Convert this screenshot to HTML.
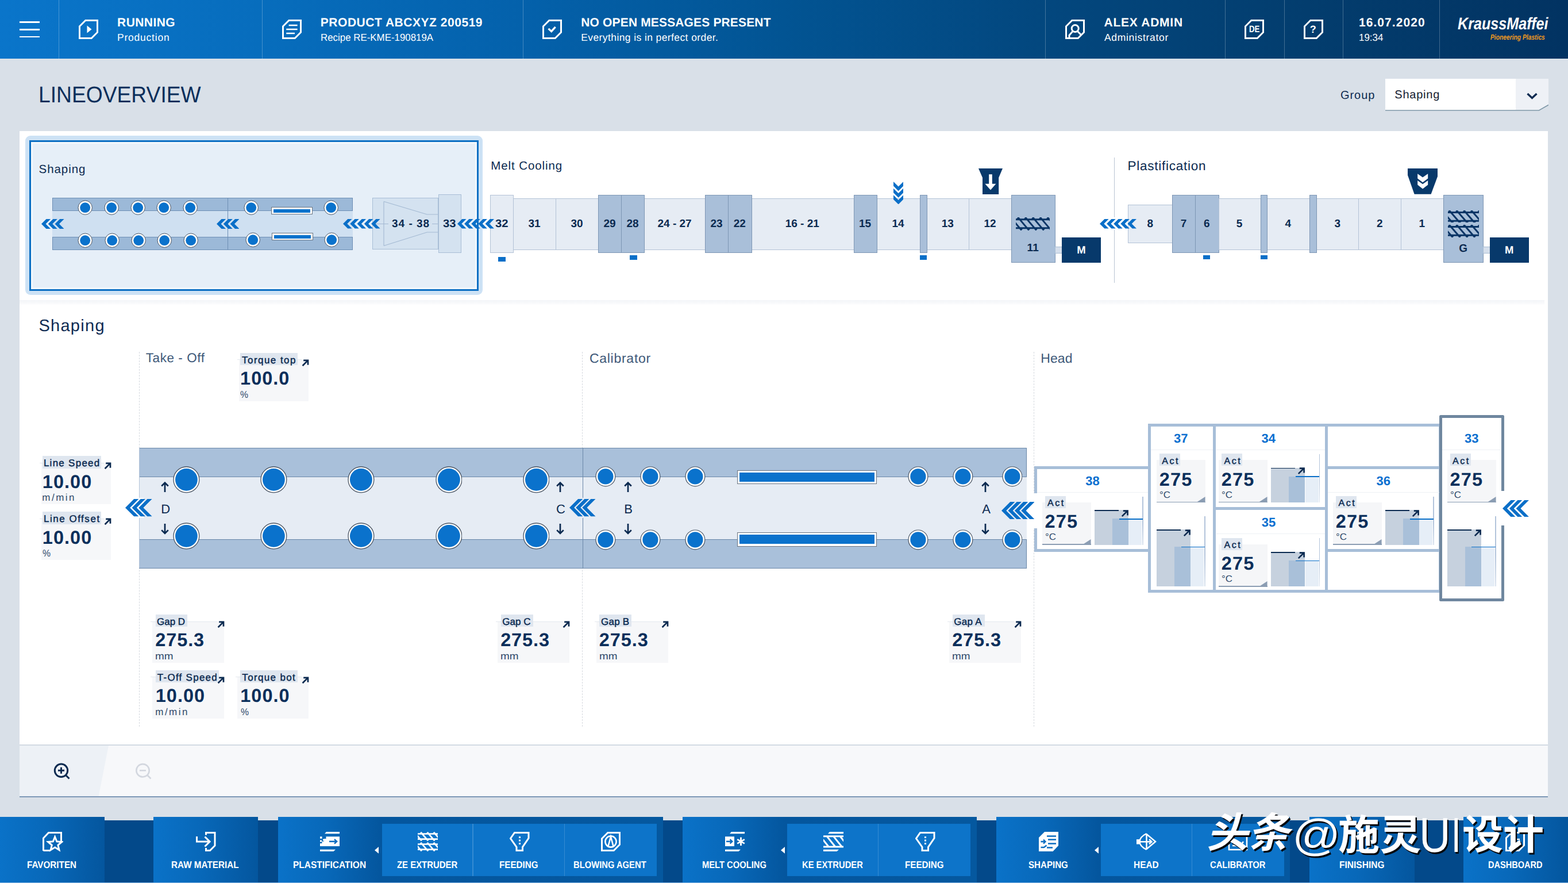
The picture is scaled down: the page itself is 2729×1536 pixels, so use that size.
<!DOCTYPE html>
<html><head><meta charset="utf-8"><title>Lineoverview</title><style>
html,body{margin:0;padding:0}
body{width:2729px;height:1536px;overflow:hidden;position:relative;background:#d9e0e8;font-family:"Liberation Sans",sans-serif}
div,svg{position:absolute}
.t{white-space:nowrap;text-rendering:geometricPrecision}
</style></head><body>
<div style="left:0px;top:0px;width:2729px;height:102px;background:linear-gradient(90deg,#0a75ca 0%,#076dbd 16.7%,#0461ab 33.3%,#025493 50%,#03477e 66.7%,#033d6e 83.4%,#023362 100%);"></div>
<div style="left:101.6px;top:0px;width:1.3px;height:102px;background:rgba(255,255,255,0.25);"></div>
<div style="left:455.6px;top:0px;width:1.3px;height:102px;background:rgba(255,255,255,0.25);"></div>
<div style="left:909.6px;top:0px;width:1.3px;height:102px;background:rgba(255,255,255,0.25);"></div>
<div style="left:1819.1px;top:0px;width:1.3px;height:102px;background:rgba(255,255,255,0.25);"></div>
<div style="left:2132.1px;top:0px;width:1.3px;height:102px;background:rgba(255,255,255,0.25);"></div>
<div style="left:2235.1px;top:0px;width:1.3px;height:102px;background:rgba(255,255,255,0.25);"></div>
<div style="left:2337.1px;top:0px;width:1.3px;height:102px;background:rgba(255,255,255,0.25);"></div>
<div style="left:2504.6px;top:0px;width:1.3px;height:102px;background:rgba(255,255,255,0.25);"></div>
<div style="left:34px;top:36.8px;width:34.5px;height:2.8px;background:#fff;"></div>
<div style="left:34px;top:49.8px;width:34.5px;height:2.8px;background:#fff;"></div>
<div style="left:34px;top:62.5px;width:34.5px;height:2.8px;background:#fff;"></div>
<svg style="left:136.6px;top:34px;" width="34" height="34" viewBox="0 0 34 34"><path d="M11.8,1.5 H32.5 V22.2 L22.2,32.5 H1.5 V11.8 Z" fill="none" stroke="#fff" stroke-width="3" stroke-linejoin="miter"/><path d="M14.5,10.5 L22.5,17 L14.5,23.5Z" fill="#fff"/></svg>
<svg style="left:490.5px;top:34px;" width="34" height="34" viewBox="0 0 34 34"><path d="M11.8,1.5 H32.5 V22.2 L22.2,32.5 H1.5 V11.8 Z" fill="none" stroke="#fff" stroke-width="3" stroke-linejoin="miter"/><path d="M11.6,10H26.6M7.2,17H26.6M7.2,24H22" stroke="#fff" stroke-width="2.6" fill="none"/></svg>
<svg style="left:944px;top:34px;" width="34" height="34" viewBox="0 0 34 34"><path d="M11.8,1.5 H32.5 V22.2 L22.2,32.5 H1.5 V11.8 Z" fill="none" stroke="#fff" stroke-width="3" stroke-linejoin="miter"/><path d="M10.6,15.9 L15.7,20.7 L22.6,12.8" stroke="#fff" stroke-width="3.3" fill="none"/></svg>
<svg style="left:1853.5px;top:34px;" width="34" height="34" viewBox="0 0 34 34"><path d="M11.8,1.5 H32.5 V22.2 L22.2,32.5 H1.5 V11.8 Z" fill="none" stroke="#fff" stroke-width="3" stroke-linejoin="miter"/><circle cx="17.2" cy="15.5" r="6" fill="none" stroke="#fff" stroke-width="3"/><path d="M7,32 V27.3 L13.2,20.3 M21.3,20.3 L28.2,27.2" fill="none" stroke="#fff" stroke-width="3"/></svg>
<svg style="left:2165.8px;top:34px;" width="34" height="34" viewBox="0 0 34 34"><path d="M11.8,1.5 H32.5 V22.2 L22.2,32.5 H1.5 V11.8 Z" fill="none" stroke="#fff" stroke-width="3" stroke-linejoin="miter"/></svg>
<div class="t" style="left:2173.71px;top:43.43px;font-size:16.5px;line-height:16.5px;color:#fff;font-weight:bold;transform:scaleX(0.8029);transform-origin:0 0;">DE</div>
<svg style="left:2268.6px;top:34px;" width="34" height="34" viewBox="0 0 34 34"><path d="M11.8,1.5 H32.5 V22.2 L22.2,32.5 H1.5 V11.8 Z" fill="none" stroke="#fff" stroke-width="3" stroke-linejoin="miter"/></svg>
<div class="t" style="left:2279.71px;top:42.16px;font-size:18px;line-height:18px;color:#fff;font-weight:bold;">?</div>
<div class="t" style="left:204.1px;top:28.62px;font-size:21px;line-height:21px;color:#fff;font-weight:bold;letter-spacing:0.42px;">RUNNING</div>
<div class="t" style="left:204.06px;top:56.59px;font-size:17.5px;line-height:17.5px;color:#fff;letter-spacing:0.77px;">Production</div>
<div class="t" style="left:557.8px;top:28.62px;font-size:21px;line-height:21px;color:#fff;font-weight:bold;letter-spacing:0.53px;">PRODUCT ABCXYZ 200519</div>
<div class="t" style="left:557.82px;top:56.59px;font-size:17.5px;line-height:17.5px;color:#fff;transform:scaleX(0.9647);transform-origin:0 0;">Recipe RE-KME-190819A</div>
<div class="t" style="left:1011.3px;top:28.62px;font-size:21px;line-height:21px;color:#fff;font-weight:bold;letter-spacing:0.15px;">NO OPEN MESSAGES PRESENT</div>
<div class="t" style="left:1011.26px;top:56.59px;font-size:17.5px;line-height:17.5px;color:#fff;letter-spacing:0.4px;">Everything is in perfect order.</div>
<div class="t" style="left:1921.48px;top:28.62px;font-size:21px;line-height:21px;color:#fff;font-weight:bold;letter-spacing:0.75px;">ALEX ADMIN</div>
<div class="t" style="left:1921.97px;top:56.59px;font-size:17.5px;line-height:17.5px;color:#fff;letter-spacing:0.68px;">Administrator</div>
<div class="t" style="left:2364.88px;top:28.62px;font-size:21px;line-height:21px;color:#fff;font-weight:bold;letter-spacing:1.08px;">16.07.2020</div>
<div class="t" style="left:2364.91px;top:56.59px;font-size:17.5px;line-height:17.5px;color:#fff;transform:scaleX(0.9655);transform-origin:0 0;">19:34</div>
<div class="t" style="left:2537.06px;top:27.43px;font-size:29.5px;line-height:29.5px;color:#fff;font-weight:bold;font-style:italic;transform:scaleX(0.8527);transform-origin:0 0;">KraussMaffei</div>
<div class="t" style="left:2594.22px;top:58.4px;font-size:13px;line-height:13px;color:#f39a1e;font-weight:bold;font-style:italic;transform:scaleX(0.7907);transform-origin:0 0;">Pioneering Plastics</div>
<div class="t" style="left:67.45px;top:145.96px;font-size:39.5px;line-height:39.5px;color:#0b2f5b;transform:scaleX(0.9423);transform-origin:0 0;">LINEOVERVIEW</div>
<div class="t" style="left:2332.99px;top:156.47px;font-size:20px;line-height:20px;color:#0b2a50;letter-spacing:0.96px;">Group</div>
<svg style="left:2411px;top:137px;" width="284" height="56" viewBox="0 0 284 56"><path d="M0,0H284V45.5L267.5,55H0Z" fill="#fff"/><path d="M227,0H284V45.5L267.5,55H227Z" fill="#eef1f6"/><path d="M0,55H267.5L284,45.5" fill="none" stroke="#7f98a8" stroke-width="1.6"/><path d="M247.5,26 L255.5,33.5 L263.5,26" fill="none" stroke="#0b2a50" stroke-width="3.4"/></svg>
<div class="t" style="left:2427.29px;top:155.47px;font-size:20px;line-height:20px;color:#141c30;letter-spacing:0.77px;">Shaping</div>
<div style="left:34px;top:228px;width:2660px;height:1157.5px;background:#fff;"></div>
<div style="left:34px;top:522px;width:2654px;height:8.3px;background:linear-gradient(180deg,#f3f5f8,#f8f9fb 60%,#fdfdfe);"></div>
<div style="left:34px;top:1295px;width:2660px;height:1.6px;background:#d3dae3;"></div>
<div style="left:34px;top:1296.6px;width:2660px;height:88.4px;background:#f7f8fa;"></div>
<svg style="left:34px;top:1296.6px;" width="160" height="88.4" viewBox="0 0 160 88.4"><path d="M0,0H155L137.5,88.4H0Z" fill="#edf1f6"/></svg>
<div style="left:34px;top:1384.5px;width:2660px;height:2.6px;background:#7d98b6;"></div>
<svg style="left:90px;top:1324px;" width="36" height="36" viewBox="0 0 36 36"><circle cx="16.5" cy="16.3" r="11.2" fill="none" stroke="#0b2a50" stroke-width="3"/><path d="M24.5,24.5 L30.5,30.5" stroke="#0b2a50" stroke-width="3"/><path d="M11,16.3H22M16.5,10.8V21.8" stroke="#0b2a50" stroke-width="3"/></svg>
<svg style="left:231.5px;top:1324px;" width="36" height="36" viewBox="0 0 36 36"><circle cx="16.5" cy="16.3" r="11.2" fill="none" stroke="#d3d7df" stroke-width="2.6"/><path d="M24.5,24.5 L30.5,30.5" stroke="#d3d7df" stroke-width="2.6"/><path d="M11,16.3H22" stroke="#d3d7df" stroke-width="2.6"/></svg>
<div style="left:43.5px;top:236.4px;width:796.5px;height:276.6px;background:#cde2f5;border-radius:9px;"></div>
<div style="left:51px;top:244px;width:782px;height:262px;background:#e6eff8;box-sizing:border-box;border:3.4px solid #0b6fc3;box-shadow:inset 0 0 0 3px #f1f7fc;"></div>
<div class="t" style="left:67.57px;top:285.05px;font-size:20.5px;line-height:20.5px;color:#0b2a50;letter-spacing:0.94px;">Shaping</div>
<div style="left:91px;top:344px;width:523px;height:90.6px;background:#cfe0f1;"></div>
<div style="left:91px;top:344px;width:523px;height:22.8px;background:#9cb9d8;box-sizing:border-box;border:1px solid #6d8fb5;"></div>
<div style="left:91px;top:412.2px;width:523px;height:22.4px;background:#9cb9d8;box-sizing:border-box;border:1px solid #6d8fb5;"></div>
<div style="left:396px;top:344px;width:1.2px;height:90.6px;background:#6d8fb5;"></div>
<svg style="left:134.5px;top:347.9px;" width="26.4" height="26.4" viewBox="0 0 26.4 26.4"><circle cx="13.2" cy="13.2" r="12.2" fill="#fff" stroke="#4b5563" stroke-width="1"/><circle cx="13.2" cy="13.2" r="8.9" fill="#0a72cc"/></svg>
<svg style="left:135.3px;top:404.6px;" width="26.4" height="26.4" viewBox="0 0 26.4 26.4"><circle cx="13.2" cy="13.2" r="12.2" fill="#fff" stroke="#4b5563" stroke-width="1"/><circle cx="13.2" cy="13.2" r="8.9" fill="#0a72cc"/></svg>
<svg style="left:181.1px;top:347.9px;" width="26.4" height="26.4" viewBox="0 0 26.4 26.4"><circle cx="13.2" cy="13.2" r="12.2" fill="#fff" stroke="#4b5563" stroke-width="1"/><circle cx="13.2" cy="13.2" r="8.9" fill="#0a72cc"/></svg>
<svg style="left:181.9px;top:404.6px;" width="26.4" height="26.4" viewBox="0 0 26.4 26.4"><circle cx="13.2" cy="13.2" r="12.2" fill="#fff" stroke="#4b5563" stroke-width="1"/><circle cx="13.2" cy="13.2" r="8.9" fill="#0a72cc"/></svg>
<svg style="left:226.9px;top:347.9px;" width="26.4" height="26.4" viewBox="0 0 26.4 26.4"><circle cx="13.2" cy="13.2" r="12.2" fill="#fff" stroke="#4b5563" stroke-width="1"/><circle cx="13.2" cy="13.2" r="8.9" fill="#0a72cc"/></svg>
<svg style="left:227.7px;top:404.6px;" width="26.4" height="26.4" viewBox="0 0 26.4 26.4"><circle cx="13.2" cy="13.2" r="12.2" fill="#fff" stroke="#4b5563" stroke-width="1"/><circle cx="13.2" cy="13.2" r="8.9" fill="#0a72cc"/></svg>
<svg style="left:272.3px;top:347.9px;" width="26.4" height="26.4" viewBox="0 0 26.4 26.4"><circle cx="13.2" cy="13.2" r="12.2" fill="#fff" stroke="#4b5563" stroke-width="1"/><circle cx="13.2" cy="13.2" r="8.9" fill="#0a72cc"/></svg>
<svg style="left:273.1px;top:404.6px;" width="26.4" height="26.4" viewBox="0 0 26.4 26.4"><circle cx="13.2" cy="13.2" r="12.2" fill="#fff" stroke="#4b5563" stroke-width="1"/><circle cx="13.2" cy="13.2" r="8.9" fill="#0a72cc"/></svg>
<svg style="left:317.8px;top:347.9px;" width="26.4" height="26.4" viewBox="0 0 26.4 26.4"><circle cx="13.2" cy="13.2" r="12.2" fill="#fff" stroke="#4b5563" stroke-width="1"/><circle cx="13.2" cy="13.2" r="8.9" fill="#0a72cc"/></svg>
<svg style="left:318.6px;top:404.6px;" width="26.4" height="26.4" viewBox="0 0 26.4 26.4"><circle cx="13.2" cy="13.2" r="12.2" fill="#fff" stroke="#4b5563" stroke-width="1"/><circle cx="13.2" cy="13.2" r="8.9" fill="#0a72cc"/></svg>
<svg style="left:424.3px;top:347.6px;" width="26.4" height="26.4" viewBox="0 0 26.4 26.4"><circle cx="13.2" cy="13.2" r="12.2" fill="#fff" stroke="#4b5563" stroke-width="1"/><circle cx="13.2" cy="13.2" r="8.9" fill="#0a72cc"/></svg>
<svg style="left:562.5px;top:347.6px;" width="26.4" height="26.4" viewBox="0 0 26.4 26.4"><circle cx="13.2" cy="13.2" r="12.2" fill="#fff" stroke="#4b5563" stroke-width="1"/><circle cx="13.2" cy="13.2" r="8.9" fill="#0a72cc"/></svg>
<svg style="left:426.6px;top:404px;" width="26.4" height="26.4" viewBox="0 0 26.4 26.4"><circle cx="13.2" cy="13.2" r="12.2" fill="#fff" stroke="#4b5563" stroke-width="1"/><circle cx="13.2" cy="13.2" r="8.9" fill="#0a72cc"/></svg>
<svg style="left:563.8px;top:404px;" width="26.4" height="26.4" viewBox="0 0 26.4 26.4"><circle cx="13.2" cy="13.2" r="12.2" fill="#fff" stroke="#4b5563" stroke-width="1"/><circle cx="13.2" cy="13.2" r="8.9" fill="#0a72cc"/></svg>
<div style="left:472.2px;top:360.4px;width:71.4px;height:13px;background:#fff;box-sizing:border-box;border:1px solid #6b7480;"></div>
<div style="left:476px;top:364.2px;width:63.8px;height:5.4px;background:#0a72cc;"></div>
<div style="left:473.4px;top:405.4px;width:71.8px;height:13px;background:#fff;box-sizing:border-box;border:1px solid #6b7480;"></div>
<div style="left:477.2px;top:409.2px;width:64.2px;height:5.4px;background:#0a72cc;"></div>
<svg style="left:72.4px;top:381px" width="39.6" height="17.1" viewBox="0 0 39.6 17.1"><path d="M0,8.55 L8.55,0 L16.07,0 L7.52,8.55 L16.07,17.1 L8.55,17.1Z M11.76,8.55 L20.31,0 L27.84,0 L19.29,8.55 L27.84,17.1 L20.31,17.1Z M23.53,8.55 L32.08,0 L39.6,0 L31.05,8.55 L39.6,17.1 L32.08,17.1Z " fill="#0a6fc8"/></svg>
<svg style="left:376.8px;top:381px" width="39.6" height="17.1" viewBox="0 0 39.6 17.1"><path d="M0,8.55 L8.55,0 L16.07,0 L7.52,8.55 L16.07,17.1 L8.55,17.1Z M11.76,8.55 L20.31,0 L27.84,0 L19.29,8.55 L27.84,17.1 L20.31,17.1Z M23.53,8.55 L32.08,0 L39.6,0 L31.05,8.55 L39.6,17.1 L32.08,17.1Z " fill="#0a6fc8"/></svg>
<div style="left:648.4px;top:344.3px;width:114.6px;height:90.2px;background:#d4e2f0;box-sizing:border-box;border:1px solid #a9bed6;"></div>
<svg style="left:648.4px;top:344.3px;" width="115" height="90.2" viewBox="0 0 115 90.2"><path d="M20,6.5V83.5 M20,6.5 L95.2,29 H114 M20,83.5 L95.2,60 H114" fill="none" stroke="#a3b9d2" stroke-width="1.1"/><path d="M0,45.5H114" stroke="#a3b9d2" stroke-width="1"/></svg>
<div style="left:762.6px;top:338.4px;width:40.2px;height:101.6px;background:#d4e2f0;box-sizing:border-box;border:1px solid #a9bed6;"></div>
<svg style="left:597.4px;top:381.1px" width="64.6" height="16.5" viewBox="0 0 64.6 16.5"><path d="M0,8.25 L8.25,0 L15.51,0 L7.26,8.25 L15.51,16.5 L8.25,16.5Z M12.27,8.25 L20.52,0 L27.78,0 L19.53,8.25 L27.78,16.5 L20.52,16.5Z M24.55,8.25 L32.8,0 L40.06,0 L31.81,8.25 L40.06,16.5 L32.8,16.5Z M36.82,8.25 L45.07,0 L52.33,0 L44.08,8.25 L52.33,16.5 L45.07,16.5Z M49.09,8.25 L57.34,0 L64.6,0 L56.35,8.25 L64.6,16.5 L57.34,16.5Z " fill="#0a6fc8"/></svg>
<div style="left:676px;top:380px;width:76px;height:18px;background:#d4e2f0;"></div>
<div class="t" style="left:682.06px;top:380.32px;font-size:19px;line-height:19px;color:#0b2a50;font-weight:bold;letter-spacing:0.98px;">34 - 38</div>
<div class="t" style="left:771.19px;top:380.32px;font-size:19px;line-height:19px;color:#0b2a50;font-weight:bold;transform:scaleX(1.0644);transform-origin:0 0;">33</div>
<div class="t" style="left:854.32px;top:279.05px;font-size:20.5px;line-height:20.5px;color:#0b2a50;letter-spacing:0.91px;">Melt Cooling</div>
<div style="left:853.3px;top:338.6px;width:40.7px;height:101.3px;background:#e6ecf4;box-sizing:border-box;border:1px solid #b3c2d6;"></div>
<div style="left:893.3px;top:344.5px;width:74.9px;height:90.2px;background:#e6ecf4;box-sizing:border-box;border:1.4px solid #b3c2d6;"></div>
<div class="t" style="left:919.53px;top:380.32px;font-size:19px;line-height:19px;color:#0b2a50;font-weight:bold;">31</div>
<div style="left:966.8px;top:344.5px;width:75.6px;height:90.2px;background:#e6ecf4;box-sizing:border-box;border:1.4px solid #b3c2d6;"></div>
<div class="t" style="left:993.5px;top:380.32px;font-size:19px;line-height:19px;color:#0b2a50;font-weight:bold;">30</div>
<div style="left:1121px;top:344.5px;width:107.4px;height:90.2px;background:#e6ecf4;box-sizing:border-box;border:1.4px solid #b3c2d6;"></div>
<div class="t" style="left:1144.51px;top:380.32px;font-size:19px;line-height:19px;color:#0b2a50;font-weight:bold;">24 - 27</div>
<div style="left:1307.6px;top:344.5px;width:179.4px;height:90.2px;background:#e6ecf4;box-sizing:border-box;border:1.4px solid #b3c2d6;"></div>
<div class="t" style="left:1366.69px;top:380.32px;font-size:19px;line-height:19px;color:#0b2a50;font-weight:bold;">16 - 21</div>
<div style="left:1526px;top:344.5px;width:76.4px;height:90.2px;background:#e6ecf4;box-sizing:border-box;border:1.4px solid #b3c2d6;"></div>
<div class="t" style="left:1552.39px;top:380.32px;font-size:19px;line-height:19px;color:#0b2a50;font-weight:bold;">14</div>
<div style="left:1612.6px;top:344.5px;width:75.2px;height:90.2px;background:#e6ecf4;box-sizing:border-box;border:1.4px solid #b3c2d6;"></div>
<div class="t" style="left:1638.68px;top:380.32px;font-size:19px;line-height:19px;color:#0b2a50;font-weight:bold;">13</div>
<div style="left:1686.4px;top:344.5px;width:75px;height:90.2px;background:#e6ecf4;box-sizing:border-box;border:1.4px solid #b3c2d6;"></div>
<div class="t" style="left:1712.42px;top:380.32px;font-size:19px;line-height:19px;color:#0b2a50;font-weight:bold;">12</div>
<div style="left:1041px;top:338.6px;width:41px;height:101.3px;background:#a9bfd9;box-sizing:border-box;border:1.2px solid #7d96b4;"></div>
<div class="t" style="left:1050.46px;top:380.32px;font-size:19px;line-height:19px;color:#0b2a50;font-weight:bold;">29</div>
<div style="left:1081px;top:338.6px;width:41px;height:101.3px;background:#a9bfd9;box-sizing:border-box;border:1.2px solid #7d96b4;"></div>
<div class="t" style="left:1090.4px;top:380.32px;font-size:19px;line-height:19px;color:#0b2a50;font-weight:bold;">28</div>
<div style="left:1227px;top:338.6px;width:41px;height:101.3px;background:#a9bfd9;box-sizing:border-box;border:1.2px solid #7d96b4;"></div>
<div class="t" style="left:1236.45px;top:380.32px;font-size:19px;line-height:19px;color:#0b2a50;font-weight:bold;">23</div>
<div style="left:1267px;top:338.6px;width:41.6px;height:101.3px;background:#a9bfd9;box-sizing:border-box;border:1.2px solid #7d96b4;"></div>
<div class="t" style="left:1276.78px;top:380.32px;font-size:19px;line-height:19px;color:#0b2a50;font-weight:bold;">22</div>
<div style="left:1485.6px;top:338.6px;width:41.4px;height:101.3px;background:#a9bfd9;box-sizing:border-box;border:1.2px solid #7d96b4;"></div>
<div class="t" style="left:1494.9px;top:380.32px;font-size:19px;line-height:19px;color:#0b2a50;font-weight:bold;">15</div>
<div style="left:1601px;top:338.6px;width:12.6px;height:101.3px;background:#a9bfd9;box-sizing:border-box;border:1.2px solid #7d96b4;"></div>
<div style="left:1760px;top:338.6px;width:77px;height:118.6px;background:#a9bfd9;box-sizing:border-box;border:1.2px solid #7d96b4;"></div>
<div class="t" style="left:1787.62px;top:422.32px;font-size:19px;line-height:19px;color:#0b2a50;font-weight:bold;">11</div>
<div style="left:1836px;top:428.5px;width:13px;height:12.5px;background:#d5dfec;box-sizing:border-box;border:1px solid #a9bdd4;"></div>
<div style="left:1848px;top:412.5px;width:68px;height:44.7px;background:#07396b;"></div>
<div class="t" style="left:1874.29px;top:425.74px;font-size:18.5px;line-height:18.5px;color:#fff;font-weight:bold;">M</div>
<div style="left:867px;top:446.5px;width:13px;height:8.2px;background:#0a6fc8;"></div>
<div style="left:1095.7px;top:443.7px;width:13.1px;height:8.2px;background:#0a6fc8;"></div>
<div style="left:1601px;top:444px;width:12px;height:7.7px;background:#0a6fc8;"></div>
<svg style="left:795.5px;top:381.1px" width="64" height="16.5" viewBox="0 0 64 16.5"><path d="M0,8.25 L8.25,0 L15.51,0 L7.26,8.25 L15.51,16.5 L8.25,16.5Z M12.12,8.25 L20.37,0 L27.63,0 L19.38,8.25 L27.63,16.5 L20.37,16.5Z M24.25,8.25 L32.5,0 L39.76,0 L31.51,8.25 L39.76,16.5 L32.5,16.5Z M36.37,8.25 L44.62,0 L51.88,0 L43.63,8.25 L51.88,16.5 L44.62,16.5Z M48.49,8.25 L56.74,0 L64,0 L55.75,8.25 L64,16.5 L56.74,16.5Z " fill="#0a6fc8"/></svg>
<div class="t" style="left:862.48px;top:380.32px;font-size:19px;line-height:19px;color:#0b2a50;font-weight:bold;transform:scaleX(1.0684);transform-origin:0 0;">32</div>
<svg style="left:1554.8px;top:315.5px" width="17.2" height="39.5" viewBox="0 0 17.2 39.5"><path d="M0,0 L8.6,8.6 L17.2,0 L17.2,7.57 L8.6,16.17 L0,7.57Z M0,11.67 L8.6,20.27 L17.2,11.67 L17.2,19.23 L8.6,27.83 L0,19.23Z M0,23.33 L8.6,31.93 L17.2,23.33 L17.2,30.9 L8.6,39.5 L0,30.9Z " fill="#0a6fc8"/></svg>
<svg style="left:1703px;top:292.9px;" width="42" height="45.2" viewBox="0 0 42 45.2"><path d="M0,0H42L35.2,16V45.2H7V16Z" fill="#07396b"/><path d="M18.2,10.2H23.8V26.8H30.4L21,37.5L11.4,26.8H18.2Z" fill="#fff"/></svg>
<svg style="left:1767.8px;top:378.3px;" width="59.6" height="22.4" viewBox="0 0 59.6 22.4"><path d="M0,3.7H59.6M0,18.7H59.6M-35,0L-16.04,22.4M-22.1,0L-3.14,22.4M-9.2,0L9.76,22.4M3.7,0L22.66,22.4M16.6,0L35.56,22.4M29.5,0L48.46,22.4M42.4,0L61.36,22.4M55.3,0L74.26,22.4M68.2,0L87.16,22.4" stroke="#0b3566" stroke-width="2.9" fill="none"/><path d="M-38.88,4.3L-35,-0.4L-31.11,4.3ZM-19.92,18.1L-16.04,22.8L-12.15,18.1ZM-25.99,4.3L-22.1,-0.4L-18.21,4.3ZM-7.02,18.1L-3.14,22.8L0.75,18.1ZM-13.08,4.3L-9.2,-0.4L-5.31,4.3ZM5.88,18.1L9.76,22.8L13.65,18.1ZM-0.19,4.3L3.7,-0.4L7.59,4.3ZM18.78,18.1L22.66,22.8L26.55,18.1ZM12.72,4.3L16.6,-0.4L20.49,4.3ZM31.68,18.1L35.56,22.8L39.45,18.1ZM25.61,4.3L29.5,-0.4L33.38,4.3ZM44.58,18.1L48.46,22.8L52.35,18.1ZM38.52,4.3L42.4,-0.4L46.29,4.3ZM57.48,18.1L61.36,22.8L65.25,18.1ZM51.42,4.3L55.3,-0.4L59.19,4.3ZM70.38,18.1L74.26,22.8L78.15,18.1ZM64.31,4.3L68.2,-0.4L72.09,4.3ZM83.28,18.1L87.16,22.8L91.05,18.1Z" fill="#0b3566"/></svg>
<div style="left:1939px;top:273.5px;width:1.3px;height:218px;background:#b9c4d2;"></div>
<div class="t" style="left:1962.55px;top:278.35px;font-size:22.5px;line-height:22.5px;color:#0b2a50;letter-spacing:0.74px;">Plastification</div>
<div style="left:1930px;top:378px;width:40px;height:22px;background:#fff;"></div>
<div style="left:1963.4px;top:355.9px;width:78px;height:66.9px;background:#e6ecf4;box-sizing:border-box;border:1.4px solid #b3c2d6;"></div>
<div class="t" style="left:1996.41px;top:380.32px;font-size:19px;line-height:19px;color:#0b2a50;font-weight:bold;">8</div>
<div style="left:2040px;top:338.8px;width:41px;height:101.4px;background:#a9bfd9;box-sizing:border-box;border:1.2px solid #7d96b4;"></div>
<div class="t" style="left:2054.73px;top:380.32px;font-size:19px;line-height:19px;color:#0b2a50;font-weight:bold;">7</div>
<div style="left:2080px;top:338.8px;width:41.5px;height:101.4px;background:#a9bfd9;box-sizing:border-box;border:1.2px solid #7d96b4;"></div>
<div class="t" style="left:2094.96px;top:380.32px;font-size:19px;line-height:19px;color:#0b2a50;font-weight:bold;">6</div>
<div style="left:2120.5px;top:344.5px;width:74.4px;height:90.2px;background:#e6ecf4;box-sizing:border-box;border:1.4px solid #b3c2d6;"></div>
<div class="t" style="left:2151.69px;top:380.32px;font-size:19px;line-height:19px;color:#0b2a50;font-weight:bold;">5</div>
<div style="left:2205px;top:344.5px;width:75.2px;height:90.2px;background:#e6ecf4;box-sizing:border-box;border:1.4px solid #b3c2d6;"></div>
<div class="t" style="left:2236.52px;top:380.32px;font-size:19px;line-height:19px;color:#0b2a50;font-weight:bold;">4</div>
<div style="left:2290.7px;top:344.5px;width:75.1px;height:90.2px;background:#e6ecf4;box-sizing:border-box;border:1.4px solid #b3c2d6;"></div>
<div class="t" style="left:2322.39px;top:380.32px;font-size:19px;line-height:19px;color:#0b2a50;font-weight:bold;">3</div>
<div style="left:2364.4px;top:344.5px;width:75px;height:90.2px;background:#e6ecf4;box-sizing:border-box;border:1.4px solid #b3c2d6;"></div>
<div class="t" style="left:2395.97px;top:380.32px;font-size:19px;line-height:19px;color:#0b2a50;font-weight:bold;">2</div>
<div style="left:2438px;top:344.5px;width:75.4px;height:90.2px;background:#e6ecf4;box-sizing:border-box;border:1.4px solid #b3c2d6;"></div>
<div class="t" style="left:2469.38px;top:380.32px;font-size:19px;line-height:19px;color:#0b2a50;font-weight:bold;">1</div>
<div style="left:2193.5px;top:338.8px;width:12.5px;height:101.4px;background:#a9bfd9;box-sizing:border-box;border:1.2px solid #7d96b4;"></div>
<div style="left:2278.8px;top:338.8px;width:12.9px;height:101.4px;background:#a9bfd9;box-sizing:border-box;border:1.2px solid #7d96b4;"></div>
<div style="left:2512px;top:338.8px;width:69.7px;height:118.5px;background:#a9bfd9;box-sizing:border-box;border:1.2px solid #7d96b4;"></div>
<div class="t" style="left:2539.16px;top:423.32px;font-size:19px;line-height:19px;color:#0b2a50;font-weight:bold;">G</div>
<div style="left:2580.7px;top:429px;width:13.3px;height:12px;background:#d5dfec;box-sizing:border-box;border:1px solid #a9bdd4;"></div>
<div style="left:2593px;top:412.5px;width:67.5px;height:44.8px;background:#07396b;"></div>
<div class="t" style="left:2618.99px;top:425.74px;font-size:18.5px;line-height:18.5px;color:#fff;font-weight:bold;">M</div>
<div style="left:2093.8px;top:444.4px;width:12.2px;height:7.1px;background:#0a6fc8;"></div>
<div style="left:2193.5px;top:444.4px;width:12.3px;height:7.1px;background:#0a6fc8;"></div>
<svg style="left:1914px;top:381px" width="64" height="16.6" viewBox="0 0 64 16.6"><path d="M0,8.3 L8.3,0 L15.6,0 L7.3,8.3 L15.6,16.6 L8.3,16.6Z M12.1,8.3 L20.4,0 L27.7,0 L19.4,8.3 L27.7,16.6 L20.4,16.6Z M24.2,8.3 L32.5,0 L39.8,0 L31.5,8.3 L39.8,16.6 L32.5,16.6Z M36.3,8.3 L44.6,0 L51.9,0 L43.6,8.3 L51.9,16.6 L44.6,16.6Z M48.4,8.3 L56.7,0 L64,0 L55.7,8.3 L64,16.6 L56.7,16.6Z " fill="#0a6fc8"/></svg>
<svg style="left:2449.7px;top:293.1px;" width="52.8" height="44.7" viewBox="0 0 52.8 44.7"><path d="M0,0H52.8V11.8L40.6,44.7H11.6L0,11.8Z" fill="#07396b"/><path d="M17.2,9.3 L26.1,15.5 L35.2,9.3 V17.6 L26.1,24.2 L17.2,17.6Z M17.2,20.9 L26.1,27.3 L35.2,20.9 V28.4 L26.1,35.4 L17.2,28.4Z" fill="#fff"/></svg>
<svg style="left:2520px;top:365.5px;" width="54" height="21.8" viewBox="0 0 54 21.8"><path d="M0,3.5H54M0,18.3H54M-36.35,0L-17.46,21.8M-23.5,0L-4.61,21.8M-10.65,0L8.24,21.8M2.2,0L21.09,21.8M15.05,0L33.94,21.8M27.9,0L46.79,21.8M40.75,0L59.64,21.8M53.6,0L72.49,21.8M66.45,0L85.34,21.8" stroke="#0b3566" stroke-width="3.0" fill="none"/><path d="M-40.02,4.1L-36.35,-0.4L-32.67,4.1ZM-21.14,17.7L-17.46,22.2L-13.79,17.7ZM-27.18,4.1L-23.5,-0.4L-19.82,4.1ZM-8.29,17.7L-4.61,22.2L-0.94,17.7ZM-14.32,4.1L-10.65,-0.4L-6.97,4.1ZM4.56,17.7L8.24,22.2L11.91,17.7ZM-1.48,4.1L2.2,-0.4L5.88,4.1ZM17.41,17.7L21.09,22.2L24.76,17.7ZM11.38,4.1L15.05,-0.4L18.73,4.1ZM30.26,17.7L33.94,22.2L37.61,17.7ZM24.22,4.1L27.9,-0.4L31.57,4.1ZM43.11,17.7L46.79,22.2L50.46,17.7ZM37.08,4.1L40.75,-0.4L44.42,4.1ZM55.96,17.7L59.64,22.2L63.31,17.7ZM49.93,4.1L53.6,-0.4L57.27,4.1ZM68.81,17.7L72.49,22.2L76.16,17.7ZM62.78,4.1L66.45,-0.4L70.12,4.1ZM81.66,17.7L85.34,22.2L89.01,17.7Z" fill="#0b3566"/></svg>
<svg style="left:2520px;top:391.3px;" width="54" height="21.8" viewBox="0 0 54 21.8"><path d="M0,3.5H54M0,18.3H54M-36.35,0L-17.46,21.8M-23.5,0L-4.61,21.8M-10.65,0L8.24,21.8M2.2,0L21.09,21.8M15.05,0L33.94,21.8M27.9,0L46.79,21.8M40.75,0L59.64,21.8M53.6,0L72.49,21.8M66.45,0L85.34,21.8" stroke="#0b3566" stroke-width="3.0" fill="none"/><path d="M-40.02,4.1L-36.35,-0.4L-32.67,4.1ZM-21.14,17.7L-17.46,22.2L-13.79,17.7ZM-27.18,4.1L-23.5,-0.4L-19.82,4.1ZM-8.29,17.7L-4.61,22.2L-0.94,17.7ZM-14.32,4.1L-10.65,-0.4L-6.97,4.1ZM4.56,17.7L8.24,22.2L11.91,17.7ZM-1.48,4.1L2.2,-0.4L5.88,4.1ZM17.41,17.7L21.09,22.2L24.76,17.7ZM11.38,4.1L15.05,-0.4L18.73,4.1ZM30.26,17.7L33.94,22.2L37.61,17.7ZM24.22,4.1L27.9,-0.4L31.57,4.1ZM43.11,17.7L46.79,22.2L50.46,17.7ZM37.08,4.1L40.75,-0.4L44.42,4.1ZM55.96,17.7L59.64,22.2L63.31,17.7ZM49.93,4.1L53.6,-0.4L57.27,4.1ZM68.81,17.7L72.49,22.2L76.16,17.7ZM62.78,4.1L66.45,-0.4L70.12,4.1ZM81.66,17.7L85.34,22.2L89.01,17.7Z" fill="#0b3566"/></svg>
<div class="t" style="left:67.38px;top:552.85px;font-size:29px;line-height:29px;color:#0e2a52;letter-spacing:1.29px;">Shaping</div>
<div class="t" style="left:253.79px;top:612.35px;font-size:22.5px;line-height:22.5px;color:#3d5878;letter-spacing:0.56px;">Take - Off</div>
<div class="t" style="left:1025.93px;top:611.93px;font-size:23px;line-height:23px;color:#3d5878;letter-spacing:0.73px;">Calibrator</div>
<div class="t" style="left:1811.31px;top:611.93px;font-size:23px;line-height:23px;color:#3d5878;letter-spacing:0.06px;">Head</div>
<div style="left:241.7px;top:612px;width:0px;height:652px;border-left:1.4px dashed #d4d8de;"></div>
<div style="left:1013.4px;top:612px;width:0px;height:652px;border-left:1.4px dashed #d4d8de;"></div>
<div style="left:1799.2px;top:612px;width:0px;height:652px;border-left:1.4px dashed #d4d8de;"></div>
<div style="left:242px;top:779.3px;width:1544.6px;height:209.7px;background:#e6ecf4;"></div>
<div style="left:242px;top:779.3px;width:1544.6px;height:50.5px;background:#a9c0da;box-sizing:border-box;border:1.2px solid #6a87a8;"></div>
<div style="left:242px;top:938.4px;width:1544.6px;height:50.6px;background:#a9c0da;box-sizing:border-box;border:1.2px solid #6a87a8;"></div>
<div style="left:1013.6px;top:779.3px;width:1.3px;height:209px;background:#6a87a8;"></div>
<div style="left:242px;top:779.3px;width:1.2px;height:209px;background:#b4c4d8;"></div>
<svg style="left:301.1px;top:811.1px;" width="46.8" height="46.8" viewBox="0 0 46.8 46.8"><circle cx="23.4" cy="23.4" r="22.4" fill="#fff" stroke="#4b5563" stroke-width="1.3"/><circle cx="23.4" cy="23.4" r="19.4" fill="#0a72cc"/></svg>
<svg style="left:301.1px;top:909.4px;" width="46.8" height="46.8" viewBox="0 0 46.8 46.8"><circle cx="23.4" cy="23.4" r="22.4" fill="#fff" stroke="#4b5563" stroke-width="1.3"/><circle cx="23.4" cy="23.4" r="19.4" fill="#0a72cc"/></svg>
<svg style="left:453.25px;top:811.1px;" width="46.8" height="46.8" viewBox="0 0 46.8 46.8"><circle cx="23.4" cy="23.4" r="22.4" fill="#fff" stroke="#4b5563" stroke-width="1.3"/><circle cx="23.4" cy="23.4" r="19.4" fill="#0a72cc"/></svg>
<svg style="left:453.25px;top:909.4px;" width="46.8" height="46.8" viewBox="0 0 46.8 46.8"><circle cx="23.4" cy="23.4" r="22.4" fill="#fff" stroke="#4b5563" stroke-width="1.3"/><circle cx="23.4" cy="23.4" r="19.4" fill="#0a72cc"/></svg>
<svg style="left:605.4px;top:811.1px;" width="46.8" height="46.8" viewBox="0 0 46.8 46.8"><circle cx="23.4" cy="23.4" r="22.4" fill="#fff" stroke="#4b5563" stroke-width="1.3"/><circle cx="23.4" cy="23.4" r="19.4" fill="#0a72cc"/></svg>
<svg style="left:605.4px;top:909.4px;" width="46.8" height="46.8" viewBox="0 0 46.8 46.8"><circle cx="23.4" cy="23.4" r="22.4" fill="#fff" stroke="#4b5563" stroke-width="1.3"/><circle cx="23.4" cy="23.4" r="19.4" fill="#0a72cc"/></svg>
<svg style="left:757.55px;top:811.1px;" width="46.8" height="46.8" viewBox="0 0 46.8 46.8"><circle cx="23.4" cy="23.4" r="22.4" fill="#fff" stroke="#4b5563" stroke-width="1.3"/><circle cx="23.4" cy="23.4" r="19.4" fill="#0a72cc"/></svg>
<svg style="left:757.55px;top:909.4px;" width="46.8" height="46.8" viewBox="0 0 46.8 46.8"><circle cx="23.4" cy="23.4" r="22.4" fill="#fff" stroke="#4b5563" stroke-width="1.3"/><circle cx="23.4" cy="23.4" r="19.4" fill="#0a72cc"/></svg>
<svg style="left:909.7px;top:811.1px;" width="46.8" height="46.8" viewBox="0 0 46.8 46.8"><circle cx="23.4" cy="23.4" r="22.4" fill="#fff" stroke="#4b5563" stroke-width="1.3"/><circle cx="23.4" cy="23.4" r="19.4" fill="#0a72cc"/></svg>
<svg style="left:909.7px;top:909.4px;" width="46.8" height="46.8" viewBox="0 0 46.8 46.8"><circle cx="23.4" cy="23.4" r="22.4" fill="#fff" stroke="#4b5563" stroke-width="1.3"/><circle cx="23.4" cy="23.4" r="19.4" fill="#0a72cc"/></svg>
<svg style="left:1035.9px;top:811.3px;" width="35.8" height="35.8" viewBox="0 0 35.8 35.8"><circle cx="17.9" cy="17.9" r="16.9" fill="#fff" stroke="#4b5563" stroke-width="1.2"/><circle cx="17.9" cy="17.9" r="13.6" fill="#0a72cc"/></svg>
<svg style="left:1035.9px;top:921px;" width="35.8" height="35.8" viewBox="0 0 35.8 35.8"><circle cx="17.9" cy="17.9" r="16.9" fill="#fff" stroke="#4b5563" stroke-width="1.2"/><circle cx="17.9" cy="17.9" r="13.6" fill="#0a72cc"/></svg>
<svg style="left:1114.4px;top:811.3px;" width="35.8" height="35.8" viewBox="0 0 35.8 35.8"><circle cx="17.9" cy="17.9" r="16.9" fill="#fff" stroke="#4b5563" stroke-width="1.2"/><circle cx="17.9" cy="17.9" r="13.6" fill="#0a72cc"/></svg>
<svg style="left:1114.4px;top:921px;" width="35.8" height="35.8" viewBox="0 0 35.8 35.8"><circle cx="17.9" cy="17.9" r="16.9" fill="#fff" stroke="#4b5563" stroke-width="1.2"/><circle cx="17.9" cy="17.9" r="13.6" fill="#0a72cc"/></svg>
<svg style="left:1192.4px;top:811.3px;" width="35.8" height="35.8" viewBox="0 0 35.8 35.8"><circle cx="17.9" cy="17.9" r="16.9" fill="#fff" stroke="#4b5563" stroke-width="1.2"/><circle cx="17.9" cy="17.9" r="13.6" fill="#0a72cc"/></svg>
<svg style="left:1192.4px;top:921px;" width="35.8" height="35.8" viewBox="0 0 35.8 35.8"><circle cx="17.9" cy="17.9" r="16.9" fill="#fff" stroke="#4b5563" stroke-width="1.2"/><circle cx="17.9" cy="17.9" r="13.6" fill="#0a72cc"/></svg>
<svg style="left:1580.2px;top:811.3px;" width="35.8" height="35.8" viewBox="0 0 35.8 35.8"><circle cx="17.9" cy="17.9" r="16.9" fill="#fff" stroke="#4b5563" stroke-width="1.2"/><circle cx="17.9" cy="17.9" r="13.6" fill="#0a72cc"/></svg>
<svg style="left:1580.2px;top:921px;" width="35.8" height="35.8" viewBox="0 0 35.8 35.8"><circle cx="17.9" cy="17.9" r="16.9" fill="#fff" stroke="#4b5563" stroke-width="1.2"/><circle cx="17.9" cy="17.9" r="13.6" fill="#0a72cc"/></svg>
<svg style="left:1658.2px;top:811.3px;" width="35.8" height="35.8" viewBox="0 0 35.8 35.8"><circle cx="17.9" cy="17.9" r="16.9" fill="#fff" stroke="#4b5563" stroke-width="1.2"/><circle cx="17.9" cy="17.9" r="13.6" fill="#0a72cc"/></svg>
<svg style="left:1658.2px;top:921px;" width="35.8" height="35.8" viewBox="0 0 35.8 35.8"><circle cx="17.9" cy="17.9" r="16.9" fill="#fff" stroke="#4b5563" stroke-width="1.2"/><circle cx="17.9" cy="17.9" r="13.6" fill="#0a72cc"/></svg>
<svg style="left:1743.5px;top:811.3px;" width="35.8" height="35.8" viewBox="0 0 35.8 35.8"><circle cx="17.9" cy="17.9" r="16.9" fill="#fff" stroke="#4b5563" stroke-width="1.2"/><circle cx="17.9" cy="17.9" r="13.6" fill="#0a72cc"/></svg>
<svg style="left:1743.5px;top:921px;" width="35.8" height="35.8" viewBox="0 0 35.8 35.8"><circle cx="17.9" cy="17.9" r="16.9" fill="#fff" stroke="#4b5563" stroke-width="1.2"/><circle cx="17.9" cy="17.9" r="13.6" fill="#0a72cc"/></svg>
<div style="left:1282.8px;top:817.6px;width:243.2px;height:24.4px;background:#fff;box-sizing:border-box;border:1px solid #6b7480;"></div>
<div style="left:1287px;top:821.8px;width:234.8px;height:16px;background:#0a72cc;"></div>
<div style="left:1282.8px;top:926px;width:243.2px;height:24.6px;background:#fff;box-sizing:border-box;border:1px solid #6b7480;"></div>
<div style="left:1287px;top:930.2px;width:234.8px;height:16.2px;background:#0a72cc;"></div>
<svg style="left:280.3px;top:838px;" width="14" height="18.3" viewBox="0 0 14 18.3"><path d="M7,18.3V1.5 M1.2,7.5 L7,1.7 L12.8,7.5" fill="none" stroke="#0b2a50" stroke-width="2.7"/></svg>
<svg style="left:280.3px;top:911px;" width="14" height="18.6" viewBox="0 0 14 18.6"><path d="M7,0V17.1 M1.2,11.1 L7,16.9 L12.8,11.1" fill="none" stroke="#0b2a50" stroke-width="2.7"/></svg>
<div class="t" style="left:280.18px;top:874.78px;font-size:22px;line-height:22px;color:#0b2a50;">D</div>
<svg style="left:968px;top:838px;" width="14" height="18.3" viewBox="0 0 14 18.3"><path d="M7,18.3V1.5 M1.2,7.5 L7,1.7 L12.8,7.5" fill="none" stroke="#0b2a50" stroke-width="2.7"/></svg>
<svg style="left:968px;top:911px;" width="14" height="18.6" viewBox="0 0 14 18.6"><path d="M7,0V17.1 M1.2,11.1 L7,16.9 L12.8,11.1" fill="none" stroke="#0b2a50" stroke-width="2.7"/></svg>
<div class="t" style="left:968.12px;top:874.78px;font-size:22px;line-height:22px;color:#0b2a50;">C</div>
<svg style="left:1085.7px;top:838px;" width="14" height="18.3" viewBox="0 0 14 18.3"><path d="M7,18.3V1.5 M1.2,7.5 L7,1.7 L12.8,7.5" fill="none" stroke="#0b2a50" stroke-width="2.7"/></svg>
<svg style="left:1085.7px;top:911px;" width="14" height="18.6" viewBox="0 0 14 18.6"><path d="M7,0V17.1 M1.2,11.1 L7,16.9 L12.8,11.1" fill="none" stroke="#0b2a50" stroke-width="2.7"/></svg>
<div class="t" style="left:1086.24px;top:874.78px;font-size:22px;line-height:22px;color:#0b2a50;">B</div>
<svg style="left:1708.4px;top:838px;" width="14" height="18.3" viewBox="0 0 14 18.3"><path d="M7,18.3V1.5 M1.2,7.5 L7,1.7 L12.8,7.5" fill="none" stroke="#0b2a50" stroke-width="2.7"/></svg>
<svg style="left:1708.4px;top:911px;" width="14" height="18.6" viewBox="0 0 14 18.6"><path d="M7,0V17.1 M1.2,11.1 L7,16.9 L12.8,11.1" fill="none" stroke="#0b2a50" stroke-width="2.7"/></svg>
<div class="t" style="left:1709.26px;top:874.78px;font-size:22px;line-height:22px;color:#0b2a50;">A</div>
<div style="left:205px;top:866px;width:45px;height:35px;background:#fff;"></div>
<svg style="left:218px;top:868.3px" width="46.6" height="30.3" viewBox="0 0 46.6 30.3"><path d="M0,15.15 L15.15,0 L23.33,0 L8.18,15.15 L23.33,30.3 L15.15,30.3Z M11.63,15.15 L26.78,0 L34.97,0 L19.82,15.15 L34.97,30.3 L26.78,30.3Z M23.27,15.15 L38.42,0 L46.6,0 L31.45,15.15 L46.6,30.3 L38.42,30.3Z " fill="#0a6fc8"/></svg>
<div style="left:990px;top:866px;width:60px;height:35px;background:#e6ecf4;"></div>
<svg style="left:991.3px;top:868.4px" width="45.5" height="30.2" viewBox="0 0 45.5 30.2"><path d="M0,15.1 L15.1,0 L23.25,0 L8.15,15.1 L23.25,30.2 L15.1,30.2Z M11.12,15.1 L26.22,0 L34.38,0 L19.28,15.1 L34.38,30.2 L26.22,30.2Z M22.25,15.1 L37.35,0 L45.5,0 L30.4,15.1 L45.5,30.2 L37.35,30.2Z " fill="#0a6fc8"/></svg>
<div style="left:415.9px;top:625.6px;width:121.3px;height:72px;background:#f6f7f9;"></div>
<div style="left:412.9px;top:625.4px;width:112.3px;height:1px;background:#e4e8ee;"></div>
<div style="left:417.8px;top:614px;width:100.2px;height:21.3px;background:#dfe6ef;"></div>
<div class="t" style="left:421.12px;top:618.01px;font-size:17px;line-height:17px;color:#0b2a50;letter-spacing:1.44px;-webkit-text-stroke:0.45px #0b2a50;">Torque top</div>
<svg style="left:525.2px;top:624.8px;" width="13" height="13" viewBox="0 0 13 13"><path d="M1.6,11.2 L10.4,2.4 M3.2,1.9 H11 V9.7" fill="none" stroke="#0b2a50" stroke-width="2.7"/></svg>
<div class="t" style="left:418.05px;top:641.89px;font-size:32.5px;line-height:32.5px;color:#0b2f5b;font-weight:bold;letter-spacing:1.01px;">100.0</div>
<div class="t" style="left:418.44px;top:678.01px;font-size:17px;line-height:17px;color:#2f4a6b;transform:scaleX(0.9278);transform-origin:0 0;">%</div>
<div style="left:71.7px;top:804.9px;width:121.3px;height:72px;background:#f6f7f9;"></div>
<div style="left:68.7px;top:804.7px;width:112.3px;height:1px;background:#e4e8ee;"></div>
<div style="left:73.6px;top:793.3px;width:102.6px;height:21.3px;background:#dfe6ef;"></div>
<div class="t" style="left:75.91px;top:797.01px;font-size:17px;line-height:17px;color:#0b2a50;letter-spacing:1.26px;-webkit-text-stroke:0.45px #0b2a50;">Line Speed</div>
<svg style="left:181px;top:804.1px;" width="13" height="13" viewBox="0 0 13 13"><path d="M1.6,11.2 L10.4,2.4 M3.2,1.9 H11 V9.7" fill="none" stroke="#0b2a50" stroke-width="2.7"/></svg>
<div class="t" style="left:73.85px;top:821.89px;font-size:32.5px;line-height:32.5px;color:#0b2f5b;font-weight:bold;letter-spacing:1.01px;">10.00</div>
<div class="t" style="left:73.37px;top:857.01px;font-size:17px;line-height:17px;color:#2f4a6b;letter-spacing:2.46px;">m/min</div>
<div style="left:71.7px;top:902px;width:121.3px;height:72px;background:#f6f7f9;"></div>
<div style="left:68.7px;top:901.8px;width:112.3px;height:1px;background:#e4e8ee;"></div>
<div style="left:73.6px;top:890.4px;width:102.6px;height:21.3px;background:#dfe6ef;"></div>
<div class="t" style="left:75.91px;top:894.01px;font-size:17px;line-height:17px;color:#0b2a50;letter-spacing:1.53px;-webkit-text-stroke:0.45px #0b2a50;">Line Offset</div>
<svg style="left:181px;top:901.2px;" width="13" height="13" viewBox="0 0 13 13"><path d="M1.6,11.2 L10.4,2.4 M3.2,1.9 H11 V9.7" fill="none" stroke="#0b2a50" stroke-width="2.7"/></svg>
<div class="t" style="left:73.85px;top:918.89px;font-size:32.5px;line-height:32.5px;color:#0b2f5b;font-weight:bold;letter-spacing:1.01px;">10.00</div>
<div class="t" style="left:74.24px;top:954.01px;font-size:17px;line-height:17px;color:#2f4a6b;transform:scaleX(0.9278);transform-origin:0 0;">%</div>
<div style="left:265.3px;top:1080.7px;width:124.6px;height:72px;background:#f6f7f9;"></div>
<div style="left:262.3px;top:1080.5px;width:115.6px;height:1px;background:#e4e8ee;"></div>
<div style="left:270.5px;top:1069.1px;width:55.8px;height:21.3px;background:#dfe6ef;"></div>
<div class="t" style="left:273.35px;top:1073.01px;font-size:17px;line-height:17px;color:#0b2a50;transform:scaleX(0.9987);transform-origin:0 0;-webkit-text-stroke:0.45px #0b2a50;">Gap D</div>
<svg style="left:377.9px;top:1079.9px;" width="13" height="13" viewBox="0 0 13 13"><path d="M1.6,11.2 L10.4,2.4 M3.2,1.9 H11 V9.7" fill="none" stroke="#0b2a50" stroke-width="2.7"/></svg>
<div class="t" style="left:270.17px;top:1096.89px;font-size:32.5px;line-height:32.5px;color:#0b2f5b;font-weight:bold;letter-spacing:0.92px;">275.3</div>
<div class="t" style="left:269.94px;top:1133.01px;font-size:17px;line-height:17px;color:#2f4a6b;transform:scaleX(1.1123);transform-origin:0 0;">mm</div>
<div style="left:265.3px;top:1177.6px;width:124.6px;height:72px;background:#f6f7f9;"></div>
<div style="left:262.3px;top:1177.4px;width:115.6px;height:1px;background:#e4e8ee;"></div>
<div style="left:270.5px;top:1166px;width:110.3px;height:21.3px;background:#dfe6ef;"></div>
<div class="t" style="left:273.82px;top:1170.01px;font-size:17px;line-height:17px;color:#0b2a50;letter-spacing:1.26px;-webkit-text-stroke:0.45px #0b2a50;">T-Off Speed</div>
<svg style="left:377.9px;top:1176.8px;" width="13" height="13" viewBox="0 0 13 13"><path d="M1.6,11.2 L10.4,2.4 M3.2,1.9 H11 V9.7" fill="none" stroke="#0b2a50" stroke-width="2.7"/></svg>
<div class="t" style="left:270.75px;top:1193.89px;font-size:32.5px;line-height:32.5px;color:#0b2f5b;font-weight:bold;letter-spacing:1.01px;">10.00</div>
<div class="t" style="left:270.27px;top:1230.01px;font-size:17px;line-height:17px;color:#2f4a6b;letter-spacing:2.46px;">m/min</div>
<div style="left:412.8px;top:1177.6px;width:124.6px;height:72px;background:#f6f7f9;"></div>
<div style="left:409.8px;top:1177.4px;width:115.6px;height:1px;background:#e4e8ee;"></div>
<div style="left:418px;top:1166px;width:100px;height:21.3px;background:#dfe6ef;"></div>
<div class="t" style="left:421.32px;top:1170.01px;font-size:17px;line-height:17px;color:#0b2a50;letter-spacing:1.34px;-webkit-text-stroke:0.45px #0b2a50;">Torque bot</div>
<svg style="left:525.4px;top:1176.8px;" width="13" height="13" viewBox="0 0 13 13"><path d="M1.6,11.2 L10.4,2.4 M3.2,1.9 H11 V9.7" fill="none" stroke="#0b2a50" stroke-width="2.7"/></svg>
<div class="t" style="left:418.25px;top:1193.89px;font-size:32.5px;line-height:32.5px;color:#0b2f5b;font-weight:bold;letter-spacing:1.01px;">100.0</div>
<div class="t" style="left:418.64px;top:1230.01px;font-size:17px;line-height:17px;color:#2f4a6b;transform:scaleX(0.9278);transform-origin:0 0;">%</div>
<div style="left:866.3px;top:1080.7px;width:124.6px;height:72px;background:#f6f7f9;"></div>
<div style="left:863.3px;top:1080.5px;width:115.6px;height:1px;background:#e4e8ee;"></div>
<div style="left:871.5px;top:1069.1px;width:56.3px;height:21.3px;background:#dfe6ef;"></div>
<div class="t" style="left:874.35px;top:1073.01px;font-size:17px;line-height:17px;color:#0b2a50;letter-spacing:0.04px;-webkit-text-stroke:0.45px #0b2a50;">Gap C</div>
<svg style="left:978.9px;top:1079.9px;" width="13" height="13" viewBox="0 0 13 13"><path d="M1.6,11.2 L10.4,2.4 M3.2,1.9 H11 V9.7" fill="none" stroke="#0b2a50" stroke-width="2.7"/></svg>
<div class="t" style="left:871.17px;top:1096.89px;font-size:32.5px;line-height:32.5px;color:#0b2f5b;font-weight:bold;letter-spacing:0.89px;">275.3</div>
<div class="t" style="left:870.94px;top:1133.01px;font-size:17px;line-height:17px;color:#2f4a6b;transform:scaleX(1.1123);transform-origin:0 0;">mm</div>
<div style="left:1038px;top:1080.7px;width:124.6px;height:72px;background:#f6f7f9;"></div>
<div style="left:1035px;top:1080.5px;width:115.6px;height:1px;background:#e4e8ee;"></div>
<div style="left:1043.2px;top:1069.1px;width:56px;height:21.3px;background:#dfe6ef;"></div>
<div class="t" style="left:1046.05px;top:1073.01px;font-size:17px;line-height:17px;color:#0b2a50;letter-spacing:0.24px;-webkit-text-stroke:0.45px #0b2a50;">Gap B</div>
<svg style="left:1150.6px;top:1079.9px;" width="13" height="13" viewBox="0 0 13 13"><path d="M1.6,11.2 L10.4,2.4 M3.2,1.9 H11 V9.7" fill="none" stroke="#0b2a50" stroke-width="2.7"/></svg>
<div class="t" style="left:1042.87px;top:1096.89px;font-size:32.5px;line-height:32.5px;color:#0b2f5b;font-weight:bold;letter-spacing:0.89px;">275.3</div>
<div class="t" style="left:1042.64px;top:1133.01px;font-size:17px;line-height:17px;color:#2f4a6b;transform:scaleX(1.1123);transform-origin:0 0;">mm</div>
<div style="left:1652.3px;top:1080.7px;width:124.6px;height:72px;background:#f6f7f9;"></div>
<div style="left:1649.3px;top:1080.5px;width:115.6px;height:1px;background:#e4e8ee;"></div>
<div style="left:1657.5px;top:1069.1px;width:56px;height:21.3px;background:#dfe6ef;"></div>
<div class="t" style="left:1660.35px;top:1073.01px;font-size:17px;line-height:17px;color:#0b2a50;letter-spacing:0.26px;-webkit-text-stroke:0.45px #0b2a50;">Gap A</div>
<svg style="left:1764.9px;top:1079.9px;" width="13" height="13" viewBox="0 0 13 13"><path d="M1.6,11.2 L10.4,2.4 M3.2,1.9 H11 V9.7" fill="none" stroke="#0b2a50" stroke-width="2.7"/></svg>
<div class="t" style="left:1657.17px;top:1096.89px;font-size:32.5px;line-height:32.5px;color:#0b2f5b;font-weight:bold;letter-spacing:0.89px;">275.3</div>
<div class="t" style="left:1656.94px;top:1133.01px;font-size:17px;line-height:17px;color:#2f4a6b;transform:scaleX(1.1123);transform-origin:0 0;">mm</div>
<div style="left:1998px;top:736.7px;width:511px;height:294.7px;background:#fff;box-sizing:border-box;border:5.2px solid #a7bed8;"></div>
<div style="left:1998px;top:736.7px;width:118.6px;height:294.7px;background:#fff;box-sizing:border-box;border:5.2px solid #a7bed8;"></div>
<div style="left:2111.4px;top:736.7px;width:199.6px;height:150px;background:#fff;box-sizing:border-box;border:5.2px solid #a7bed8;"></div>
<div style="left:2111.4px;top:881.5px;width:199.6px;height:149.9px;background:#fff;box-sizing:border-box;border:5.2px solid #a7bed8;"></div>
<div style="left:2305.8px;top:810.5px;width:203.2px;height:149.1px;background:#fff;box-sizing:border-box;border:5.2px solid #a7bed8;"></div>
<div style="left:1799.9px;top:810.5px;width:203.3px;height:149.1px;background:#fff;box-sizing:border-box;border:5.2px solid #a7bed8;"></div>
<div style="left:1799px;top:857.6px;width:7px;height:61px;background:#fff;"></div>
<div style="left:2504.7px;top:722.3px;width:113px;height:323.6px;background:#fff;box-sizing:border-box;border:5.6px solid #6f879f;border-radius:2.5px;"></div>
<div style="left:2611px;top:854px;width:8px;height:60.2px;background:#fff;"></div>
<div class="t" style="left:1889.15px;top:825.78px;font-size:22px;line-height:22px;color:#0a6fd0;font-weight:bold;">38</div>
<div style="left:1805px;top:855.7px;width:193px;height:1.2px;background:#eef1f5;"></div>
<div style="left:1813.6px;top:874px;width:85px;height:73.6px;background:#f5f6f8;"></div>
<div style="left:1813.6px;top:946.4px;width:85px;height:1.6px;background:#8b9db3;"></div>
<svg style="left:1884px;top:938px;" width="14.6" height="9.6" viewBox="0 0 14.6 9.6"><path d="M14.6,0V9.6H0Z" fill="#8b9db3"/></svg>
<div style="left:1818.8px;top:862.8px;width:36px;height:21.2px;background:#dfe6ef;"></div>
<div class="t" style="left:1823.07px;top:867.86px;font-size:16px;line-height:16px;color:#0b2a50;letter-spacing:2.52px;-webkit-text-stroke:0.45px #0b2a50;">Act</div>
<div class="t" style="left:1818.47px;top:890.89px;font-size:32.5px;line-height:32.5px;color:#0b2f5b;font-weight:bold;letter-spacing:1.15px;">275</div>
<div class="t" style="left:1818.99px;top:926.86px;font-size:16px;line-height:16px;color:#2f4a6b;transform:scaleX(1.0555);transform-origin:0 0;">°C</div>
<div style="left:1904.9px;top:887.4px;width:59.3px;height:60.2px;background:#c6d1de;"></div>
<div style="left:1935.9px;top:902.4px;width:28.3px;height:45.2px;background:#a9c0d9;"></div>
<div style="left:1964.2px;top:902.4px;width:23.2px;height:45.2px;background:#e6eef7;"></div>
<div style="left:1988.3px;top:863.8px;width:1.6px;height:83.8px;background:linear-gradient(180deg,#b3c4db 0%,#b3c4db 55%,#dbe4ef 100%);"></div>
<div style="left:1904.9px;top:887.4px;width:42px;height:1.6px;background:#0b2a50;"></div>
<div style="left:1947.5px;top:902.2px;width:41.5px;height:1.7px;background:#0a6fc8;"></div>
<svg style="left:1950.9px;top:887px;" width="13.5" height="13" viewBox="0 0 13.5 13"><path d="M1.8,11.2 L11,2 M3.8,1.6 H11.6 V9.4" fill="none" stroke="#0b2a50" stroke-width="2.6"/></svg>
<div class="t" style="left:2043px;top:751.78px;font-size:22px;line-height:22px;color:#0a6fd0;font-weight:bold;">37</div>
<div style="left:2003.2px;top:781.5px;width:108.2px;height:1.2px;background:#eef1f5;"></div>
<div style="left:2012.9px;top:800.4px;width:85px;height:73.6px;background:#f5f6f8;"></div>
<div style="left:2012.9px;top:872.8px;width:85px;height:1.6px;background:#8b9db3;"></div>
<svg style="left:2083.3px;top:864.4px;" width="14.6" height="9.6" viewBox="0 0 14.6 9.6"><path d="M14.6,0V9.6H0Z" fill="#8b9db3"/></svg>
<div style="left:2018.1px;top:789.2px;width:36px;height:21.2px;background:#dfe6ef;"></div>
<div class="t" style="left:2022.37px;top:794.86px;font-size:16px;line-height:16px;color:#0b2a50;letter-spacing:2.52px;-webkit-text-stroke:0.45px #0b2a50;">Act</div>
<div class="t" style="left:2017.77px;top:817.89px;font-size:32.5px;line-height:32.5px;color:#0b2f5b;font-weight:bold;letter-spacing:1.15px;">275</div>
<div class="t" style="left:2018.29px;top:853.86px;font-size:16px;line-height:16px;color:#2f4a6b;transform:scaleX(1.0555);transform-origin:0 0;">°C</div>
<div style="left:2012.9px;top:921.3px;width:59.3px;height:99px;background:#c6d1de;"></div>
<div style="left:2043.9px;top:950.9px;width:28.3px;height:69.4px;background:#a9c0d9;"></div>
<div style="left:2072.2px;top:950.9px;width:23.2px;height:69.4px;background:#e6eef7;"></div>
<div style="left:2096.3px;top:897.7px;width:1.6px;height:122.6px;background:linear-gradient(180deg,#b3c4db 0%,#b3c4db 55%,#dbe4ef 100%);"></div>
<div style="left:2012.9px;top:921.3px;width:42px;height:1.6px;background:#0b2a50;"></div>
<div style="left:2055.5px;top:950.7px;width:41.5px;height:1.7px;background:#0a6fc8;"></div>
<svg style="left:2058.9px;top:920.9px;" width="13.5" height="13" viewBox="0 0 13.5 13"><path d="M1.8,11.2 L11,2 M3.8,1.6 H11.6 V9.4" fill="none" stroke="#0b2a50" stroke-width="2.6"/></svg>
<div class="t" style="left:2195.57px;top:751.78px;font-size:22px;line-height:22px;color:#0a6fd0;font-weight:bold;">34</div>
<div style="left:2116.6px;top:781.5px;width:189.2px;height:1.2px;background:#eef1f5;"></div>
<div style="left:2121px;top:800.4px;width:85px;height:73.6px;background:#f5f6f8;"></div>
<div style="left:2121px;top:872.8px;width:85px;height:1.6px;background:#8b9db3;"></div>
<svg style="left:2191.4px;top:864.4px;" width="14.6" height="9.6" viewBox="0 0 14.6 9.6"><path d="M14.6,0V9.6H0Z" fill="#8b9db3"/></svg>
<div style="left:2126.2px;top:789.2px;width:36px;height:21.2px;background:#dfe6ef;"></div>
<div class="t" style="left:2130.47px;top:794.86px;font-size:16px;line-height:16px;color:#0b2a50;letter-spacing:2.52px;-webkit-text-stroke:0.45px #0b2a50;">Act</div>
<div class="t" style="left:2125.87px;top:817.89px;font-size:32.5px;line-height:32.5px;color:#0b2f5b;font-weight:bold;letter-spacing:1.15px;">275</div>
<div class="t" style="left:2126.39px;top:853.86px;font-size:16px;line-height:16px;color:#2f4a6b;transform:scaleX(1.0555);transform-origin:0 0;">°C</div>
<div style="left:2212.2px;top:813.6px;width:59.3px;height:60.2px;background:#c6d1de;"></div>
<div style="left:2243.2px;top:828.6px;width:28.3px;height:45.2px;background:#a9c0d9;"></div>
<div style="left:2271.5px;top:828.6px;width:23.2px;height:45.2px;background:#e6eef7;"></div>
<div style="left:2295.6px;top:790px;width:1.6px;height:83.8px;background:linear-gradient(180deg,#b3c4db 0%,#b3c4db 55%,#dbe4ef 100%);"></div>
<div style="left:2212.2px;top:813.6px;width:42px;height:1.6px;background:#0b2a50;"></div>
<div style="left:2254.8px;top:828.4px;width:41.5px;height:1.7px;background:#0a6fc8;"></div>
<svg style="left:2258.2px;top:813.2px;" width="13.5" height="13" viewBox="0 0 13.5 13"><path d="M1.8,11.2 L11,2 M3.8,1.6 H11.6 V9.4" fill="none" stroke="#0b2a50" stroke-width="2.6"/></svg>
<div class="t" style="left:2195.82px;top:897.78px;font-size:22px;line-height:22px;color:#0a6fd0;font-weight:bold;">35</div>
<div style="left:2116.6px;top:927.8px;width:189.2px;height:1.2px;background:#eef1f5;"></div>
<div style="left:2121px;top:946.8px;width:85px;height:73.6px;background:#f5f6f8;"></div>
<div style="left:2121px;top:1019.2px;width:85px;height:1.6px;background:#8b9db3;"></div>
<svg style="left:2191.4px;top:1010.8px;" width="14.6" height="9.6" viewBox="0 0 14.6 9.6"><path d="M14.6,0V9.6H0Z" fill="#8b9db3"/></svg>
<div style="left:2126.2px;top:935.6px;width:36px;height:21.2px;background:#dfe6ef;"></div>
<div class="t" style="left:2130.47px;top:940.86px;font-size:16px;line-height:16px;color:#0b2a50;letter-spacing:2.52px;-webkit-text-stroke:0.45px #0b2a50;">Act</div>
<div class="t" style="left:2125.87px;top:963.89px;font-size:32.5px;line-height:32.5px;color:#0b2f5b;font-weight:bold;letter-spacing:1.15px;">275</div>
<div class="t" style="left:2126.39px;top:999.86px;font-size:16px;line-height:16px;color:#2f4a6b;transform:scaleX(1.0555);transform-origin:0 0;">°C</div>
<div style="left:2212.2px;top:960px;width:59.3px;height:60.3px;background:#c6d1de;"></div>
<div style="left:2243.2px;top:975px;width:28.3px;height:45.3px;background:#a9c0d9;"></div>
<div style="left:2271.5px;top:975px;width:23.2px;height:45.3px;background:#e6eef7;"></div>
<div style="left:2295.6px;top:936.4px;width:1.6px;height:83.9px;background:linear-gradient(180deg,#b3c4db 0%,#b3c4db 55%,#dbe4ef 100%);"></div>
<div style="left:2212.2px;top:960px;width:42px;height:1.6px;background:#0b2a50;"></div>
<div style="left:2254.8px;top:974.8px;width:41.5px;height:1.7px;background:#0a6fc8;"></div>
<svg style="left:2258.2px;top:959.6px;" width="13.5" height="13" viewBox="0 0 13.5 13"><path d="M1.8,11.2 L11,2 M3.8,1.6 H11.6 V9.4" fill="none" stroke="#0b2a50" stroke-width="2.6"/></svg>
<div class="t" style="left:2395.41px;top:825.78px;font-size:22px;line-height:22px;color:#0a6fd0;font-weight:bold;">36</div>
<div style="left:2311px;top:855.7px;width:193.7px;height:1.2px;background:#eef1f5;"></div>
<div style="left:2320px;top:874px;width:85px;height:73.6px;background:#f5f6f8;"></div>
<div style="left:2320px;top:946.4px;width:85px;height:1.6px;background:#8b9db3;"></div>
<svg style="left:2390.4px;top:938px;" width="14.6" height="9.6" viewBox="0 0 14.6 9.6"><path d="M14.6,0V9.6H0Z" fill="#8b9db3"/></svg>
<div style="left:2325.2px;top:862.8px;width:36px;height:21.2px;background:#dfe6ef;"></div>
<div class="t" style="left:2329.47px;top:867.86px;font-size:16px;line-height:16px;color:#0b2a50;letter-spacing:2.52px;-webkit-text-stroke:0.45px #0b2a50;">Act</div>
<div class="t" style="left:2324.87px;top:890.89px;font-size:32.5px;line-height:32.5px;color:#0b2f5b;font-weight:bold;letter-spacing:1.15px;">275</div>
<div class="t" style="left:2325.39px;top:926.86px;font-size:16px;line-height:16px;color:#2f4a6b;transform:scaleX(1.0555);transform-origin:0 0;">°C</div>
<div style="left:2411px;top:887.4px;width:59.3px;height:60.2px;background:#c6d1de;"></div>
<div style="left:2442px;top:902.4px;width:28.3px;height:45.2px;background:#a9c0d9;"></div>
<div style="left:2470.3px;top:902.4px;width:23.2px;height:45.2px;background:#e6eef7;"></div>
<div style="left:2494.4px;top:863.8px;width:1.6px;height:83.8px;background:linear-gradient(180deg,#b3c4db 0%,#b3c4db 55%,#dbe4ef 100%);"></div>
<div style="left:2411px;top:887.4px;width:42px;height:1.6px;background:#0b2a50;"></div>
<div style="left:2453.6px;top:902.2px;width:41.5px;height:1.7px;background:#0a6fc8;"></div>
<svg style="left:2457px;top:887px;" width="13.5" height="13" viewBox="0 0 13.5 13"><path d="M1.8,11.2 L11,2 M3.8,1.6 H11.6 V9.4" fill="none" stroke="#0b2a50" stroke-width="2.6"/></svg>
<div class="t" style="left:2548.91px;top:751.78px;font-size:22px;line-height:22px;color:#0a6fd0;font-weight:bold;">33</div>
<div style="left:2510.3px;top:781.5px;width:101.7px;height:1.2px;background:#eef1f5;"></div>
<div style="left:2518.6px;top:800.4px;width:85px;height:73.6px;background:#f5f6f8;"></div>
<div style="left:2518.6px;top:872.8px;width:85px;height:1.6px;background:#8b9db3;"></div>
<svg style="left:2589px;top:864.4px;" width="14.6" height="9.6" viewBox="0 0 14.6 9.6"><path d="M14.6,0V9.6H0Z" fill="#8b9db3"/></svg>
<div style="left:2523.8px;top:789.2px;width:36px;height:21.2px;background:#dfe6ef;"></div>
<div class="t" style="left:2528.07px;top:794.86px;font-size:16px;line-height:16px;color:#0b2a50;letter-spacing:2.52px;-webkit-text-stroke:0.45px #0b2a50;">Act</div>
<div class="t" style="left:2523.47px;top:817.89px;font-size:32.5px;line-height:32.5px;color:#0b2f5b;font-weight:bold;letter-spacing:1.15px;">275</div>
<div class="t" style="left:2523.99px;top:853.86px;font-size:16px;line-height:16px;color:#2f4a6b;transform:scaleX(1.0555);transform-origin:0 0;">°C</div>
<div style="left:2518.6px;top:921.3px;width:59.3px;height:99px;background:#c6d1de;"></div>
<div style="left:2549.6px;top:950.9px;width:28.3px;height:69.4px;background:#a9c0d9;"></div>
<div style="left:2577.9px;top:950.9px;width:23.2px;height:69.4px;background:#e6eef7;"></div>
<div style="left:2602px;top:897.7px;width:1.6px;height:122.6px;background:linear-gradient(180deg,#b3c4db 0%,#b3c4db 55%,#dbe4ef 100%);"></div>
<div style="left:2518.6px;top:921.3px;width:42px;height:1.6px;background:#0b2a50;"></div>
<div style="left:2561.2px;top:950.7px;width:41.5px;height:1.7px;background:#0a6fc8;"></div>
<svg style="left:2564.6px;top:920.9px;" width="13.5" height="13" viewBox="0 0 13.5 13"><path d="M1.8,11.2 L11,2 M3.8,1.6 H11.6 V9.4" fill="none" stroke="#0b2a50" stroke-width="2.6"/></svg>
<div style="left:1741px;top:871px;width:46px;height:34px;background:#e6ecf4;"></div>
<div style="left:1787px;top:871px;width:19px;height:34px;background:#fff;"></div>
<svg style="left:1742.7px;top:873px" width="57.7" height="30.4" viewBox="0 0 57.7 30.4"><path d="M0,15.2 L15.2,0 L23.41,0 L8.21,15.2 L23.41,30.4 L15.2,30.4Z M11.43,15.2 L26.63,0 L34.84,0 L19.64,15.2 L34.84,30.4 L26.63,30.4Z M22.86,15.2 L38.06,0 L46.27,0 L31.07,15.2 L46.27,30.4 L38.06,30.4Z M34.29,15.2 L49.49,0 L57.7,0 L42.5,15.2 L57.7,30.4 L49.49,30.4Z " fill="#0a6fc8"/></svg>
<svg style="left:2615px;top:869.6px" width="46" height="29.1" viewBox="0 0 46 29.1"><path d="M0,14.55 L14.55,0 L22.41,0 L7.86,14.55 L22.41,29.1 L14.55,29.1Z M11.8,14.55 L26.35,0 L34.2,0 L19.65,14.55 L34.2,29.1 L26.35,29.1Z M23.59,14.55 L38.14,0 L46,0 L31.45,14.55 L46,29.1 L38.14,29.1Z " fill="#0a6fc8"/></svg>
<div style="left:0px;top:1427px;width:2729px;height:109px;background:#03498a;"></div>
<div style="left:0px;top:1421.3px;width:181.7px;height:114.7px;background:linear-gradient(90deg,#0a72c8 0%,#0868b9 45%,#04569e 100%);"></div>
<div class="t" style="left:47.28px;top:1496.01px;font-size:17px;line-height:17px;color:#fff;font-weight:bold;transform:scaleX(0.8961);transform-origin:0 0;">FAVORITEN</div>
<div style="left:267.2px;top:1421.3px;width:181.8px;height:114.7px;background:linear-gradient(90deg,#0a72c8 0%,#0868b9 45%,#04569e 100%);"></div>
<div class="t" style="left:298.28px;top:1496.01px;font-size:17px;line-height:17px;color:#fff;font-weight:bold;transform:scaleX(0.8972);transform-origin:0 0;">RAW MATERIAL</div>
<div style="left:483.6px;top:1421.3px;width:670.4px;height:114.7px;background:linear-gradient(90deg,#0a72c8 0px,#0868b9 85px,#04569e 178px,#05589f 100%);"></div>
<div class="t" style="left:510.06px;top:1496.01px;font-size:17px;line-height:17px;color:#fff;font-weight:bold;transform:scaleX(0.9113);transform-origin:0 0;">PLASTIFICATION</div>
<div style="left:664.8px;top:1433px;width:478.2px;height:91px;background:#0d74c9;"></div>
<div style="left:822.4px;top:1433px;width:1.2px;height:91px;background:rgba(255,255,255,0.17);"></div>
<div style="left:981.7px;top:1433px;width:1.2px;height:91px;background:rgba(255,255,255,0.17);"></div>
<div class="t" style="left:691.01px;top:1496.01px;font-size:17px;line-height:17px;color:#fff;font-weight:bold;transform:scaleX(0.8774);transform-origin:0 0;">ZE EXTRUDER</div>
<div class="t" style="left:868.93px;top:1496.01px;font-size:17px;line-height:17px;color:#fff;font-weight:bold;transform:scaleX(0.8927);transform-origin:0 0;">FEEDING</div>
<div class="t" style="left:998.46px;top:1496.01px;font-size:17px;line-height:17px;color:#fff;font-weight:bold;transform:scaleX(0.8690);transform-origin:0 0;">BLOWING AGENT</div>
<svg style="left:652.3px;top:1473px;" width="7.1" height="11.8" viewBox="0 0 7.1 11.8"><path d="M7.1,0V11.8L0,5.9Z" fill="#fff"/></svg>
<div style="left:1187.8px;top:1421.3px;width:512px;height:114.7px;background:linear-gradient(90deg,#0a72c8 0px,#0868b9 85px,#04569e 178px,#05589f 100%);"></div>
<div class="t" style="left:1222.41px;top:1496.01px;font-size:17px;line-height:17px;color:#fff;font-weight:bold;transform:scaleX(0.8670);transform-origin:0 0;">MELT COOLING</div>
<div style="left:1370px;top:1433px;width:318.8px;height:91px;background:#0d74c9;"></div>
<div style="left:1528px;top:1433px;width:1.2px;height:91px;background:rgba(255,255,255,0.17);"></div>
<div class="t" style="left:1395.76px;top:1496.01px;font-size:17px;line-height:17px;color:#fff;font-weight:bold;transform:scaleX(0.8682);transform-origin:0 0;">KE EXTRUDER</div>
<div class="t" style="left:1574.73px;top:1496.01px;font-size:17px;line-height:17px;color:#fff;font-weight:bold;transform:scaleX(0.8927);transform-origin:0 0;">FEEDING</div>
<svg style="left:1359.1px;top:1473px;" width="7.1" height="11.8" viewBox="0 0 7.1 11.8"><path d="M7.1,0V11.8L0,5.9Z" fill="#fff"/></svg>
<div style="left:1734px;top:1421.3px;width:511.3px;height:114.7px;background:linear-gradient(90deg,#0a72c8 0px,#0868b9 85px,#04569e 178px,#05589f 100%);"></div>
<div class="t" style="left:1790.21px;top:1496.01px;font-size:17px;line-height:17px;color:#fff;font-weight:bold;transform:scaleX(0.8892);transform-origin:0 0;">SHAPING</div>
<div style="left:1915.7px;top:1433px;width:319.7px;height:91px;background:#0d74c9;"></div>
<div style="left:2073.8px;top:1433px;width:1.2px;height:91px;background:rgba(255,255,255,0.17);"></div>
<div class="t" style="left:1972.97px;top:1496.01px;font-size:17px;line-height:17px;color:#fff;font-weight:bold;transform:scaleX(0.9068);transform-origin:0 0;">HEAD</div>
<div class="t" style="left:2106.04px;top:1496.01px;font-size:17px;line-height:17px;color:#fff;font-weight:bold;transform:scaleX(0.8701);transform-origin:0 0;">CALIBRATOR</div>
<svg style="left:1904.7px;top:1473px;" width="7.1" height="11.8" viewBox="0 0 7.1 11.8"><path d="M7.1,0V11.8L0,5.9Z" fill="#fff"/></svg>
<div style="left:2279.3px;top:1421.3px;width:183px;height:114.7px;background:linear-gradient(90deg,#0a72c8 0%,#0868b9 45%,#04569e 100%);"></div>
<div class="t" style="left:2331.31px;top:1496.01px;font-size:17px;line-height:17px;color:#fff;font-weight:bold;transform:scaleX(0.9134);transform-origin:0 0;">FINISHING</div>
<div style="left:2547px;top:1421.3px;width:182px;height:114.7px;background:linear-gradient(90deg,#0a72c8 0%,#0868b9 45%,#04569e 100%);"></div>
<div class="t" style="left:2590.33px;top:1496.01px;font-size:17px;line-height:17px;color:#fff;font-weight:bold;transform:scaleX(0.8560);transform-origin:0 0;">DASHBOARD</div>
<div style="left:0px;top:1534.6px;width:2729px;height:1.4px;background:#7fb2e2;"></div>
<svg style="left:74px;top:1447px;" width="36" height="36" viewBox="0 0 36 36"><path d="M1.5,33 V11 L10.5,1.5 H32.5 V17.5 M1.5,32.5 H13.5" fill="none" stroke="#fff" stroke-width="3"/><path d="M21.6,8.8 L24.89,16.87 L33.58,17.51 L26.93,23.13 L29.01,31.59 L21.6,27 L14.19,31.59 L16.27,23.13 L9.62,17.51 L18.31,16.87Z" fill="none" stroke="#fff" stroke-width="3" stroke-linejoin="miter"/></svg>
<svg style="left:340.7px;top:1447px;" width="36" height="36" viewBox="0 0 36 36"><path d="M1.5,8 V17 H23 M15.5,8.5 L24,17 L15.5,25.5" fill="none" stroke="#fff" stroke-width="3"/><path d="M17.5,5.5 V1.5 H33 V24 L24.5,32.5 H17.5 V28" fill="none" stroke="#fff" stroke-width="3"/></svg>
<svg style="left:557px;top:1447px;" width="36" height="36" viewBox="0 0 36 36"><path d="M11,0H34V3.2H8Z" fill="#fff"/><path d="M0,30.8H27L23.5,34H0Z" fill="#fff"/><path d="M10.5,8.2H34V25H0V20H3.5V16.5H7V12H10.5Z" fill="#fff"/><path d="M0,8.2H3.5V11.7H0Z M5,12.5H8V15.5H5Z M0,14.5H3V17.5H0Z" fill="#fff"/><path d="M16,16.7H29 M25,12.8 L29.2,16.7 L25,20.6" stroke="#0a6cc0" stroke-width="2.4" fill="none"/></svg>
<svg style="left:727.2px;top:1447px;" width="35" height="34.2" viewBox="0 0 35 34.2"><path d="M0,3.5H35M0,12.6H35M-28.4,0.8L-15.97,15.3M-17.1,0.8L-4.67,15.3M-5.8,0.8L6.63,15.3M5.5,0.8L17.93,15.3M16.8,0.8L29.23,15.3M28.1,0.8L40.53,15.3M39.4,0.8L51.83,15.3" stroke="#fff" stroke-width="2.7" fill="none"/><path d="M-31.37,4.1L-28.4,0.3L-25.43,4.1ZM-18.94,12L-15.97,15.8L-13,12ZM-20.07,4.1L-17.1,0.3L-14.13,4.1ZM-7.64,12L-4.67,15.8L-1.7,12ZM-8.77,4.1L-5.8,0.3L-2.83,4.1ZM3.66,12L6.63,15.8L9.6,12ZM2.53,4.1L5.5,0.3L8.47,4.1ZM14.96,12L17.93,15.8L20.9,12ZM13.83,4.1L16.8,0.3L19.77,4.1ZM26.26,12L29.23,15.8L32.2,12ZM25.13,4.1L28.1,0.3L31.07,4.1ZM37.56,12L40.53,15.8L43.5,12ZM36.43,4.1L39.4,0.3L42.37,4.1ZM48.86,12L51.83,15.8L54.8,12Z" fill="#fff"/><path d="M0,21.5H35M0,30.6H35M-28.4,18.8L-15.97,33.3M-17.1,18.8L-4.67,33.3M-5.8,18.8L6.63,33.3M5.5,18.8L17.93,33.3M16.8,18.8L29.23,33.3M28.1,18.8L40.53,33.3M39.4,18.8L51.83,33.3" stroke="#fff" stroke-width="2.7" fill="none"/><path d="M-31.37,22.1L-28.4,18.3L-25.43,22.1ZM-18.94,30L-15.97,33.8L-13,30ZM-20.07,22.1L-17.1,18.3L-14.13,22.1ZM-7.64,30L-4.67,33.8L-1.7,30ZM-8.77,22.1L-5.8,18.3L-2.83,22.1ZM3.66,30L6.63,33.8L9.6,30ZM2.53,22.1L5.5,18.3L8.47,22.1ZM14.96,30L17.93,33.8L20.9,30ZM13.83,22.1L16.8,18.3L19.77,22.1ZM26.26,30L29.23,33.8L32.2,30ZM25.13,22.1L28.1,18.3L31.07,22.1ZM37.56,30L40.53,33.8L43.5,30ZM36.43,22.1L39.4,18.3L42.37,22.1ZM48.86,30L51.83,33.8L54.8,30Z" fill="#fff"/></svg>
<svg style="left:886.8px;top:1447px;" width="36" height="36" viewBox="0 0 36 36"><path d="M1.5,11.5 L8.5,1.5 H33 V11 L22.5,26.5 V32.5 H12 V26.5 Z" fill="none" stroke="#fff" stroke-width="3" stroke-linejoin="miter"/><path d="M16,8H19V11H16Z M16,13.5H19V16.5H16Z M16,19H19V22H16Z" fill="#fff"/></svg>
<svg style="left:1592.7px;top:1447px;" width="36" height="36" viewBox="0 0 36 36"><path d="M1.5,11.5 L8.5,1.5 H33 V11 L22.5,26.5 V32.5 H12 V26.5 Z" fill="none" stroke="#fff" stroke-width="3" stroke-linejoin="miter"/><path d="M16,8H19V11H16Z M16,13.5H19V16.5H16Z M16,19H19V22H16Z" fill="#fff"/></svg>
<svg style="left:1045.6px;top:1447px;" width="36" height="36" viewBox="0 0 36 36"><path d="M11.8,1.5 H32.5 V22.2 L22.2,32.5 H1.5 V11.8 Z" fill="none" stroke="#fff" stroke-width="3"/><circle cx="17" cy="17" r="9.6" fill="none" stroke="#fff" stroke-width="2.6"/><path d="M12.5,25 L17,8.5 L21.5,25" fill="none" stroke="#fff" stroke-width="2.6"/></svg>
<svg style="left:1261.8px;top:1447px;" width="36" height="36" viewBox="0 0 36 36"><path d="M11,0H34V3.2H8Z" fill="#fff"/><path d="M0,30.8H27L23.5,34H0Z" fill="#fff"/><path d="M0,8.2H16V25H0Z" fill="#fff"/><path d="M2,16.7H12 M8.5,13 L12.3,16.7 L8.5,20.4" stroke="#0a6cc0" stroke-width="2.4" fill="none"/><path d="M27.5,9.5V24 M21.2,13.1 L33.8,20.4 M33.8,13.1 L21.2,20.4" stroke="#fff" stroke-width="2.8" fill="none"/></svg>
<svg style="left:1432.6px;top:1447px;" width="35" height="34.2" viewBox="0 0 35 34.2"><path d="M11,0H35V3.2H8Z" fill="#fff"/><path d="M0,30.8H27L23.5,34H0Z" fill="#fff"/><path d="M0,7.7H35M0,26.1H35M-28.5,7.6L-13.55,26.2M-17,7.6L-2.05,26.2M-5.5,7.6L9.45,26.2M6,7.6L20.95,26.2M17.5,7.6L32.45,26.2M29,7.6L43.95,26.2M40.5,7.6L55.45,26.2" stroke="#fff" stroke-width="3" fill="none"/><path d="M-28.61,8.3L-28.5,7.1L-28.39,8.3ZM-13.66,25.5L-13.55,26.7L-13.44,25.5ZM-17.11,8.3L-17,7.1L-16.89,8.3ZM-2.16,25.5L-2.05,26.7L-1.94,25.5ZM-5.61,8.3L-5.5,7.1L-5.39,8.3ZM9.34,25.5L9.45,26.7L9.56,25.5ZM5.89,8.3L6,7.1L6.11,8.3ZM20.84,25.5L20.95,26.7L21.06,25.5ZM17.39,8.3L17.5,7.1L17.61,8.3ZM32.34,25.5L32.45,26.7L32.56,25.5ZM28.89,8.3L29,7.1L29.11,8.3ZM43.84,25.5L43.95,26.7L44.06,25.5ZM40.39,8.3L40.5,7.1L40.61,8.3ZM55.34,25.5L55.45,26.7L55.56,25.5Z" fill="#fff"/></svg>
<svg style="left:1808px;top:1447px;" width="36" height="36" viewBox="0 0 36 36"><path d="M10,0H34V24L24.5,34H0V10Z" fill="#fff"/><path d="M14,7.5H30 M16,13.5H30 M3.5,17H11 M8,13.5 L11.5,17 L8,20.5 M16,20.5H30 M3.5,27H9 L13.5,23.5 M14,27.5H24" stroke="#0a6cc0" stroke-width="2.3" fill="none"/></svg>
<svg style="left:1977.6px;top:1447px;" width="36" height="36" viewBox="0 0 36 36"><path d="M0,13H5V21.5H0Z" fill="#fff"/><path d="M17.5,3 V31 M17.5,3 Q5.5,9 5.5,17 Q5.5,25 17.5,31 M17.5,4 L33,17 L17.5,30 M5,17.2H25 M22,13 L26.5,17.2 L22,21.4" fill="none" stroke="#fff" stroke-width="2.5"/></svg>
<svg style="left:2137px;top:1447px;" width="36" height="36" viewBox="0 0 36 36"><path d="M2,3.5H33V31H2Z" fill="none" stroke="#fff" stroke-width="2.6"/><path d="M8,24 H22 L27,17" fill="none" stroke="#fff" stroke-width="2.4"/></svg>
<svg style="left:2353px;top:1447px;" width="36" height="36" viewBox="0 0 36 36"><path d="M10.5,1.5 H32.5 V23.5 L23.5,32.5 H1.5 V10.5 Z" fill="none" stroke="#fff" stroke-width="3"/></svg>
<svg style="left:2620px;top:1447px;" width="36" height="36" viewBox="0 0 36 36"><path d="M10.5,1.5 H32.5 V23.5 L23.5,32.5 H1.5 V10.5 Z" fill="none" stroke="#fff" stroke-width="3"/><path d="M9,13H25M9,19H25" stroke="#fff" stroke-width="2.6"/></svg>
<div class="t" style="left:2100px;top:1414px;font-size:72px;line-height:72px;color:#fff;font-weight:bold;font-style:italic;font-family:'Liberation Sans','Noto Sans CJK SC',sans-serif;text-shadow:2.6px 2.6px 0 #05070a;">头条</div>
<div class="t" style="left:2329px;top:1418px;font-size:72px;line-height:72px;color:#fff;font-weight:bold;letter-spacing:0.4px;font-family:'Liberation Sans','Noto Sans CJK SC',sans-serif;text-shadow:2.6px 2.6px 0 #05070a;">施灵</div>
<div class="t" style="left:2545px;top:1418px;font-size:71px;line-height:71px;color:#fff;font-weight:bold;font-family:'Liberation Sans','Noto Sans CJK SC',sans-serif;text-shadow:2.6px 2.6px 0 #05070a;">设计</div>
<div class="t" style="left:2248.68px;top:1415.64px;font-size:76.5px;line-height:76.5px;color:#fff;transform:scaleX(1.0841);transform-origin:0 0;text-shadow:2.6px 2.6px 0 #05070a;">@</div>
<div class="t" style="left:2469.87px;top:1411.02px;font-size:85.5px;line-height:85.5px;color:#fff;transform:scaleX(0.8836);transform-origin:0 0;text-shadow:2.6px 2.6px 0 #05070a;">U</div>
<div class="t" style="left:2526.46px;top:1411.02px;font-size:85.5px;line-height:85.5px;color:#fff;transform:scaleX(0.7023);transform-origin:0 0;text-shadow:2.6px 2.6px 0 #05070a;">I</div>
</body></html>
